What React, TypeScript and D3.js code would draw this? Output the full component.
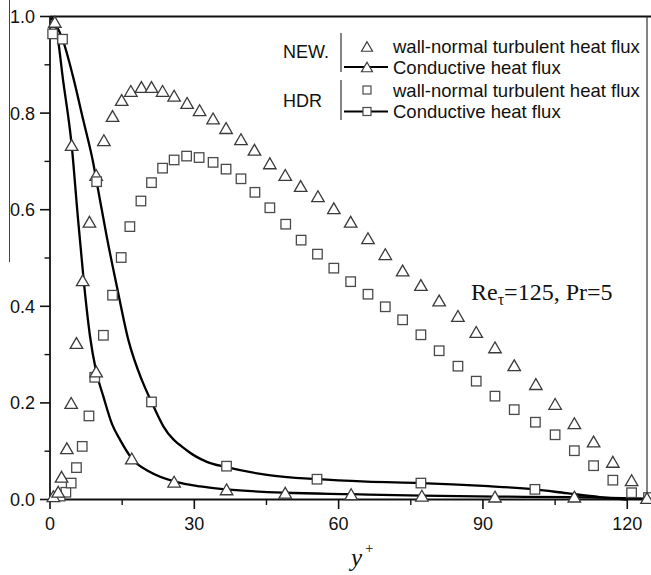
import React from "react";
import * as d3 from "d3";

// ---- data ----
const xTickValues = [0, 30, 60, 90, 120];
const xMinorTicks = [15, 45, 75, 105];
const yTickValues = [0, 0.2, 0.4, 0.6, 0.8, 1.0];
const yTickLabels = ["0.0", "0.2", "0.4", "0.6", "0.8", "1.0"];
const yMinorTicks = [0.1, 0.3, 0.5, 0.7, 0.9];

// NEW: wall-normal turbulent heat flux (triangles)
const newWnX = [0.7, 1.7, 2.4, 3.5, 4.4, 5.5, 6.8, 8.2, 9.6, 11.2, 13.0, 14.9, 16.8, 19.0, 21.1, 23.4, 25.8, 28.5, 31.1, 33.9, 36.6, 39.7, 42.5, 45.7, 48.9, 52.1, 55.7, 59.0, 62.5, 66.1, 69.7, 73.3, 77.1, 80.9, 84.8, 88.6, 92.5, 96.5, 101.0, 105.0, 109.0, 113.0, 117.0, 120.9, 124.1];
const newWnY = [0.007, 0.016, 0.047, 0.106, 0.200, 0.324, 0.454, 0.575, 0.672, 0.744, 0.794, 0.827, 0.846, 0.854, 0.854, 0.846, 0.836, 0.821, 0.806, 0.789, 0.769, 0.746, 0.724, 0.696, 0.672, 0.649, 0.628, 0.603, 0.575, 0.541, 0.508, 0.474, 0.444, 0.412, 0.380, 0.347, 0.315, 0.278, 0.239, 0.198, 0.158, 0.120, 0.078, 0.040, 0.003];

// HDR: wall-normal turbulent heat flux (squares)
const hdrWnX = [2.1, 3.3, 4.4, 5.5, 6.7, 8.1, 9.3, 11.1, 13.0, 14.8, 16.6, 18.9, 21.1, 23.4, 25.8, 28.4, 31.0, 33.9, 36.6, 39.7, 42.6, 45.7, 49.0, 52.2, 55.6, 59.0, 62.5, 66.1, 69.7, 73.3, 77.1, 80.9, 84.8, 88.6, 92.5, 96.5, 100.9, 105.0, 109.0, 113.0, 117.0, 120.9, 124.4];
const hdrWnY = [0.007, 0.015, 0.034, 0.066, 0.110, 0.173, 0.253, 0.340, 0.423, 0.501, 0.565, 0.618, 0.656, 0.686, 0.703, 0.711, 0.708, 0.698, 0.684, 0.664, 0.636, 0.604, 0.570, 0.537, 0.508, 0.479, 0.451, 0.425, 0.399, 0.372, 0.341, 0.308, 0.276, 0.245, 0.214, 0.186, 0.160, 0.134, 0.101, 0.070, 0.040, 0.014, 0.004];

// NEW: conductive heat flux (line + triangles)
const newCondX = [0.3, 1.0, 2.8, 4.5, 5.7, 7.0, 8.3, 9.6, 11.1, 12.9, 14.6, 17.0, 20.8, 26.0, 31.2, 36.7, 48.9, 62.6, 77.3, 92.5, 109.0, 124.1];
const newCondY = [0.998, 0.989, 0.862, 0.734, 0.595, 0.454, 0.339, 0.265, 0.213, 0.156, 0.123, 0.085, 0.057, 0.037, 0.027, 0.021, 0.014, 0.011, 0.008, 0.006, 0.005, 0.002];
const newCondMarkX = [1.0, 4.5, 9.6, 17.0, 25.8, 36.7, 48.9, 62.6, 77.3, 92.5, 109.0];
const newCondMarkY = [0.989, 0.734, 0.265, 0.085, 0.037, 0.021, 0.014, 0.011, 0.008, 0.006, 0.006];

// HDR: conductive heat flux (line + squares)
const hdrCondX = [0.2, 1.3, 2.6, 4.8, 6.9, 9.0, 9.7, 11.8, 13.9, 16.3, 19.1, 21.1, 23.6, 28.4, 32.6, 36.7, 45.1, 55.5, 65.8, 77.1, 90.1, 100.8, 107.4, 114.3, 119.9];
const hdrCondY = [0.997, 0.982, 0.953, 0.875, 0.786, 0.696, 0.658, 0.544, 0.441, 0.330, 0.247, 0.202, 0.151, 0.102, 0.078, 0.067, 0.051, 0.042, 0.037, 0.034, 0.028, 0.021, 0.013, 0.005, 0.0];
const hdrCondMarkX = [0.55, 2.6, 9.7, 21.1, 36.7, 55.5, 77.1, 100.8];
const hdrCondMarkY = [0.964, 0.953, 0.658, 0.202, 0.069, 0.042, 0.034, 0.021];

const legendGroups = ["NEW.", "HDR"];
const legendLabels = ["wall-normal turbulent heat flux", "Conductive heat flux"];

const zip = (xs: number[], ys: number[]): [number, number][] => xs.map((v, i) => [v, ys[i]]);

const triPath = (cx: number, cy: number, s: number) => {
  const h = s * 0.866;
  return `M${cx},${cy - h / 2}L${cx + s / 2},${cy + h / 2}L${cx - s / 2},${cy + h / 2}Z`;
};

export default function App() {
  const W = 651, H = 575;
  const x = d3.scaleLinear().domain([0, 124.1]).range([50, 647]);
  const y = d3.scaleLinear().domain([0, 1]).range([499.5, 16.5]);
  const line = d3.line<[number, number]>().x(d => x(d[0])).y(d => y(d[1])).curve(d3.curveMonotoneX);

  const triS = 12.5;
  const sqS = 9.5;
  const mStroke = "#3a3a3a";
  const sans = "'Liberation Sans', Arial, sans-serif";
  const serif = "'Liberation Serif', 'Times New Roman', serif";

  const triangles = (pts: [number, number][], key: string) =>
    pts.map((p, i) => (
      <path key={key + i} d={triPath(x(p[0]), y(p[1]), triS)} fill="#fff" stroke={mStroke} strokeWidth={1.3} />
    ));
  const squares = (pts: [number, number][], key: string) =>
    pts.map((p, i) => (
      <rect key={key + i} x={x(p[0]) - sqS / 2} y={y(p[1]) - sqS / 2} width={sqS} height={sqS} fill="#fff" stroke="#4a4a4a" strokeWidth={1.3} />
    ));

  // legend layout
  const lgRowY = [46.5, 67, 90, 111.5];
  const lgTextX = 393;
  const lgSymX = 367;

  return (
    <svg width={W} height={H} style={{ position: "absolute", left: 0, top: 0, background: "#fff" }}>
      <rect x={0} y={0} width={W} height={H} fill="#fff" />
      {/* scan artifact line at far left */}
      <line x1={9.5} y1={0} x2={9.5} y2={262} stroke="#444" strokeWidth={1} />

      {/* frame */}
      <line x1={50} y1={16.5} x2={651} y2={16.5} stroke="#111" strokeWidth={1.8} />
      <line x1={647} y1={16.5} x2={647} y2={499.5} stroke="#333" strokeWidth={1.2} />
      <line x1={50} y1={16.5} x2={50} y2={499.5} stroke="#111" strokeWidth={1.8} />
      <line x1={50} y1={499.5} x2={651} y2={499.5} stroke="#111" strokeWidth={1.8} />

      {/* y ticks */}
      {yTickValues.map((v, i) => (
        <g key={"yt" + i}>
          <line x1={40} x2={50} y1={y(v)} y2={y(v)} stroke="#111" strokeWidth={1.6} />
          <text x={35} y={y(v)} dy="0.36em" textAnchor="end" fontFamily={sans} fontSize={18} fill="#111">{yTickLabels[i]}</text>
        </g>
      ))}
      {yMinorTicks.map((v, i) => (
        <line key={"ym" + i} x1={44.5} x2={50} y1={y(v)} y2={y(v)} stroke="#111" strokeWidth={1.4} />
      ))}
      {/* x ticks */}
      {xTickValues.map((v, i) => (
        <g key={"xt" + i}>
          <line x1={x(v)} x2={x(v)} y1={499.5} y2={509} stroke="#111" strokeWidth={1.6} />
          <text x={x(v)} y={530} textAnchor="middle" fontFamily={sans} fontSize={18} fill="#111">{v}</text>
        </g>
      ))}
      {xMinorTicks.map((v, i) => (
        <line key={"xm" + i} x1={x(v)} x2={x(v)} y1={499.5} y2={505} stroke="#111" strokeWidth={1.4} />
      ))}

      {/* x label */}
      <text x={351} y={566} fontFamily={serif} fontStyle="italic" fontSize={25} fill="#111">y</text>
      <text x={365} y={553} fontFamily={serif} fontSize={15} fill="#111">+</text>

      {/* conductive lines */}
      <path d={line(zip(newCondX, newCondY)) || ""} fill="none" stroke="#000" strokeWidth={2.3} />
      <path d={line(zip(hdrCondX, hdrCondY)) || ""} fill="none" stroke="#000" strokeWidth={2.3} />

      {/* markers */}
      {squares(zip(hdrWnX, hdrWnY), "hw")}
      {triangles(zip(newWnX, newWnY), "nw")}
      {squares(zip(hdrCondMarkX, hdrCondMarkY), "hc")}
      {triangles(zip(newCondMarkX, newCondMarkY), "nc")}

      {/* legend */}
      <text x={283} y={52} dy="0.36em" fontFamily={sans} fontSize={18} fill="#111">{legendGroups[0]}</text>
      <text x={283} y={100.5} dy="0.36em" fontFamily={sans} fontSize={18} fill="#111">{legendGroups[1]}</text>
      <line x1={341} x2={341} y1={33} y2={72} stroke="#333" strokeWidth={1.2} />
      <line x1={341} x2={341} y1={80} y2={120} stroke="#333" strokeWidth={1.2} />
      <path d={triPath(lgSymX, lgRowY[0], 11)} fill="#fff" stroke={mStroke} strokeWidth={1.2} />
      <line x1={344} x2={388} y1={lgRowY[1]} y2={lgRowY[1]} stroke="#000" strokeWidth={2} />
      <path d={triPath(lgSymX, lgRowY[1], 11)} fill="#fff" stroke={mStroke} strokeWidth={1.2} />
      <rect x={lgSymX - 4} y={lgRowY[2] - 4} width={8} height={8} fill="#fff" stroke="#4a4a4a" strokeWidth={1.2} />
      <line x1={344} x2={388} y1={lgRowY[3]} y2={lgRowY[3]} stroke="#000" strokeWidth={2} />
      <rect x={lgSymX - 4} y={lgRowY[3] - 4} width={8} height={8} fill="#fff" stroke="#4a4a4a" strokeWidth={1.2} />
      {lgRowY.map((ry, i) => (
        <text key={"lt" + i} x={lgTextX} y={ry} dy="0.36em" fontFamily={sans} fontSize={18.5} fill="#111">{legendLabels[i % 2]}</text>
      ))}

      {/* annotation */}
      <text x={471} y={300} fontFamily={serif} fontSize={24} fill="#111">
        <tspan>Re</tspan>
        <tspan dy={5} fontSize={16}>τ</tspan>
        <tspan dy={-5}>=125, Pr=5</tspan>
      </text>
    </svg>
  );
}
